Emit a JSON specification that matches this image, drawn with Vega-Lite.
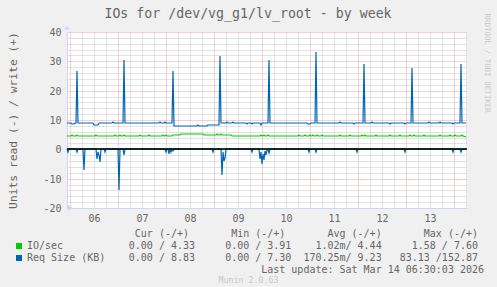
{
  "$schema": "https://vega.github.io/schema/vega-lite/v6.json",
  "width": 400,
  "height": 176,
  "autosize": {"type": "none"},
  "padding": {"left": 67, "top": 32, "right": 30, "bottom": 79},
  "background": "#f0f0f0",
  "config": {
    "font": "DejaVu Sans Mono",
    "view": {"fill": "#ffffff", "stroke": null},
    "axis": {"labelFont": "DejaVu Sans Mono", "titleFont": "DejaVu Sans Mono", "labelColor": "#666666", "titleColor": "#666666", "titleFontWeight": "normal", "labelFontSize": 10}
  },
  "title": {"text": "IOs for /dev/vg_g1/lv_root - by week", "font": "DejaVu Sans Mono", "fontSize": 13.25, "fontWeight": "normal", "color": "#666666", "anchor": "middle", "frame": "group", "dx": -19, "offset": -18, "baseline": "alphabetic"},
  "data": {"values": [
    {"t":"2026-03-05T22:30","s":"IO/sec","d":"w","v":4.45},
    {"t":"2026-03-06T00:30","s":"IO/sec","d":"w","v":4.45},
    {"t":"2026-03-06T01:00","s":"IO/sec","d":"w","v":4.9},
    {"t":"2026-03-06T01:30","s":"IO/sec","d":"w","v":4.45},
    {"t":"2026-03-06T03:00","s":"IO/sec","d":"w","v":4.45},
    {"t":"2026-03-06T03:30","s":"IO/sec","d":"w","v":4.9},
    {"t":"2026-03-06T04:00","s":"IO/sec","d":"w","v":4.45},
    {"t":"2026-03-06T12:30","s":"IO/sec","d":"w","v":4.45},
    {"t":"2026-03-06T13:00","s":"IO/sec","d":"w","v":4.9},
    {"t":"2026-03-06T13:30","s":"IO/sec","d":"w","v":4.45},
    {"t":"2026-03-06T22:00","s":"IO/sec","d":"w","v":4.45},
    {"t":"2026-03-06T22:30","s":"IO/sec","d":"w","v":4.9},
    {"t":"2026-03-06T23:00","s":"IO/sec","d":"w","v":4.45},
    {"t":"2026-03-07T00:30","s":"IO/sec","d":"w","v":4.45},
    {"t":"2026-03-07T01:00","s":"IO/sec","d":"w","v":4.9},
    {"t":"2026-03-07T01:30","s":"IO/sec","d":"w","v":4.45},
    {"t":"2026-03-07T02:30","s":"IO/sec","d":"w","v":4.45},
    {"t":"2026-03-07T03:00","s":"IO/sec","d":"w","v":4.9},
    {"t":"2026-03-07T03:30","s":"IO/sec","d":"w","v":4.45},
    {"t":"2026-03-07T10:30","s":"IO/sec","d":"w","v":4.45},
    {"t":"2026-03-07T11:00","s":"IO/sec","d":"w","v":4.9},
    {"t":"2026-03-07T11:30","s":"IO/sec","d":"w","v":4.45},
    {"t":"2026-03-07T15:00","s":"IO/sec","d":"w","v":4.45},
    {"t":"2026-03-07T15:30","s":"IO/sec","d":"w","v":4.9},
    {"t":"2026-03-07T16:00","s":"IO/sec","d":"w","v":4.45},
    {"t":"2026-03-07T22:00","s":"IO/sec","d":"w","v":4.45},
    {"t":"2026-03-07T22:30","s":"IO/sec","d":"w","v":4.9},
    {"t":"2026-03-07T23:00","s":"IO/sec","d":"w","v":4.45},
    {"t":"2026-03-07T23:30","s":"IO/sec","d":"w","v":4.45},
    {"t":"2026-03-08T00:00","s":"IO/sec","d":"w","v":4.9},
    {"t":"2026-03-08T00:30","s":"IO/sec","d":"w","v":4.45},
    {"t":"2026-03-08T03:00","s":"IO/sec","d":"w","v":4.45},
    {"t":"2026-03-08T03:30","s":"IO/sec","d":"w","v":5.0},
    {"t":"2026-03-08T07:00","s":"IO/sec","d":"w","v":5.0},
    {"t":"2026-03-08T07:30","s":"IO/sec","d":"w","v":5.25},
    {"t":"2026-03-08T18:30","s":"IO/sec","d":"w","v":5.25},
    {"t":"2026-03-08T19:00","s":"IO/sec","d":"w","v":5.0},
    {"t":"2026-03-09T01:00","s":"IO/sec","d":"w","v":5.0},
    {"t":"2026-03-09T01:30","s":"IO/sec","d":"w","v":5.3},
    {"t":"2026-03-09T02:00","s":"IO/sec","d":"w","v":5.0},
    {"t":"2026-03-09T03:00","s":"IO/sec","d":"w","v":5.0},
    {"t":"2026-03-09T03:30","s":"IO/sec","d":"w","v":5.3},
    {"t":"2026-03-09T04:00","s":"IO/sec","d":"w","v":5.0},
    {"t":"2026-03-09T08:30","s":"IO/sec","d":"w","v":5.0},
    {"t":"2026-03-09T09:00","s":"IO/sec","d":"w","v":4.45},
    {"t":"2026-03-09T23:00","s":"IO/sec","d":"w","v":4.45},
    {"t":"2026-03-09T23:30","s":"IO/sec","d":"w","v":4.9},
    {"t":"2026-03-10T00:00","s":"IO/sec","d":"w","v":4.45},
    {"t":"2026-03-10T00:30","s":"IO/sec","d":"w","v":4.45},
    {"t":"2026-03-10T01:00","s":"IO/sec","d":"w","v":4.9},
    {"t":"2026-03-10T01:30","s":"IO/sec","d":"w","v":4.45},
    {"t":"2026-03-10T02:30","s":"IO/sec","d":"w","v":4.45},
    {"t":"2026-03-10T03:00","s":"IO/sec","d":"w","v":4.9},
    {"t":"2026-03-10T03:30","s":"IO/sec","d":"w","v":4.45},
    {"t":"2026-03-10T18:00","s":"IO/sec","d":"w","v":4.45},
    {"t":"2026-03-10T18:30","s":"IO/sec","d":"w","v":4.8},
    {"t":"2026-03-10T19:00","s":"IO/sec","d":"w","v":4.45},
    {"t":"2026-03-10T21:00","s":"IO/sec","d":"w","v":4.45},
    {"t":"2026-03-10T21:30","s":"IO/sec","d":"w","v":4.8},
    {"t":"2026-03-10T22:00","s":"IO/sec","d":"w","v":4.45},
    {"t":"2026-03-10T23:30","s":"IO/sec","d":"w","v":4.45},
    {"t":"2026-03-11T00:00","s":"IO/sec","d":"w","v":4.9},
    {"t":"2026-03-11T00:30","s":"IO/sec","d":"w","v":4.45},
    {"t":"2026-03-11T01:00","s":"IO/sec","d":"w","v":4.45},
    {"t":"2026-03-11T01:30","s":"IO/sec","d":"w","v":4.8},
    {"t":"2026-03-11T02:00","s":"IO/sec","d":"w","v":4.45},
    {"t":"2026-03-11T03:00","s":"IO/sec","d":"w","v":4.45},
    {"t":"2026-03-11T03:30","s":"IO/sec","d":"w","v":4.9},
    {"t":"2026-03-11T04:00","s":"IO/sec","d":"w","v":4.45},
    {"t":"2026-03-11T05:30","s":"IO/sec","d":"w","v":4.45},
    {"t":"2026-03-11T06:00","s":"IO/sec","d":"w","v":4.8},
    {"t":"2026-03-11T06:30","s":"IO/sec","d":"w","v":4.45},
    {"t":"2026-03-11T14:30","s":"IO/sec","d":"w","v":4.45},
    {"t":"2026-03-11T15:00","s":"IO/sec","d":"w","v":4.8},
    {"t":"2026-03-11T15:30","s":"IO/sec","d":"w","v":4.45},
    {"t":"2026-03-11T19:30","s":"IO/sec","d":"w","v":4.45},
    {"t":"2026-03-11T20:00","s":"IO/sec","d":"w","v":4.8},
    {"t":"2026-03-11T20:30","s":"IO/sec","d":"w","v":4.45},
    {"t":"2026-03-12T01:30","s":"IO/sec","d":"w","v":4.45},
    {"t":"2026-03-12T02:00","s":"IO/sec","d":"w","v":4.8},
    {"t":"2026-03-12T02:30","s":"IO/sec","d":"w","v":4.45},
    {"t":"2026-03-12T03:00","s":"IO/sec","d":"w","v":4.45},
    {"t":"2026-03-12T03:30","s":"IO/sec","d":"w","v":4.9},
    {"t":"2026-03-12T04:00","s":"IO/sec","d":"w","v":4.45},
    {"t":"2026-03-12T08:30","s":"IO/sec","d":"w","v":4.45},
    {"t":"2026-03-12T09:00","s":"IO/sec","d":"w","v":4.8},
    {"t":"2026-03-12T09:30","s":"IO/sec","d":"w","v":4.45},
    {"t":"2026-03-12T15:30","s":"IO/sec","d":"w","v":4.45},
    {"t":"2026-03-12T16:00","s":"IO/sec","d":"w","v":4.8},
    {"t":"2026-03-12T16:30","s":"IO/sec","d":"w","v":4.45},
    {"t":"2026-03-12T20:30","s":"IO/sec","d":"w","v":4.45},
    {"t":"2026-03-12T21:00","s":"IO/sec","d":"w","v":4.8},
    {"t":"2026-03-12T21:30","s":"IO/sec","d":"w","v":4.45},
    {"t":"2026-03-13T01:30","s":"IO/sec","d":"w","v":4.45},
    {"t":"2026-03-13T02:00","s":"IO/sec","d":"w","v":4.8},
    {"t":"2026-03-13T02:30","s":"IO/sec","d":"w","v":4.45},
    {"t":"2026-03-13T03:30","s":"IO/sec","d":"w","v":4.45},
    {"t":"2026-03-13T04:00","s":"IO/sec","d":"w","v":4.9},
    {"t":"2026-03-13T04:30","s":"IO/sec","d":"w","v":4.45},
    {"t":"2026-03-13T08:30","s":"IO/sec","d":"w","v":4.45},
    {"t":"2026-03-13T09:00","s":"IO/sec","d":"w","v":4.8},
    {"t":"2026-03-13T09:30","s":"IO/sec","d":"w","v":4.45},
    {"t":"2026-03-13T16:30","s":"IO/sec","d":"w","v":4.45},
    {"t":"2026-03-13T17:00","s":"IO/sec","d":"w","v":4.8},
    {"t":"2026-03-13T17:30","s":"IO/sec","d":"w","v":4.45},
    {"t":"2026-03-13T21:30","s":"IO/sec","d":"w","v":4.45},
    {"t":"2026-03-13T22:00","s":"IO/sec","d":"w","v":4.8},
    {"t":"2026-03-13T22:30","s":"IO/sec","d":"w","v":4.45},
    {"t":"2026-03-14T00:00","s":"IO/sec","d":"w","v":4.45},
    {"t":"2026-03-14T00:30","s":"IO/sec","d":"w","v":4.8},
    {"t":"2026-03-14T01:00","s":"IO/sec","d":"w","v":4.45},
    {"t":"2026-03-14T03:30","s":"IO/sec","d":"w","v":4.45},
    {"t":"2026-03-14T04:00","s":"IO/sec","d":"w","v":4.8},
    {"t":"2026-03-14T04:30","s":"IO/sec","d":"w","v":4.45},
    {"t":"2026-03-14T06:00","s":"IO/sec","d":"w","v":4.33},
    {"t":"2026-03-05T22:30","s":"IO/sec","d":"r","v":0},
    {"t":"2026-03-07T00:00","s":"IO/sec","d":"r","v":0},
    {"t":"2026-03-07T00:30","s":"IO/sec","d":"r","v":-0.3},
    {"t":"2026-03-07T01:00","s":"IO/sec","d":"r","v":0},
    {"t":"2026-03-09T03:30","s":"IO/sec","d":"r","v":0},
    {"t":"2026-03-09T04:00","s":"IO/sec","d":"r","v":-0.3},
    {"t":"2026-03-09T04:30","s":"IO/sec","d":"r","v":0},
    {"t":"2026-03-14T06:00","s":"IO/sec","d":"r","v":0},
    {"t":"2026-03-05T22:30","s":"Req Size (KB)","d":"w","v":8.9},
    {"t":"2026-03-06T00:30","s":"Req Size (KB)","d":"w","v":8.9},
    {"t":"2026-03-06T01:00","s":"Req Size (KB)","d":"w","v":8.6},
    {"t":"2026-03-06T02:00","s":"Req Size (KB)","d":"w","v":8.6},
    {"t":"2026-03-06T02:30","s":"Req Size (KB)","d":"w","v":8.9},
    {"t":"2026-03-06T03:00","s":"Req Size (KB)","d":"w","v":8.9},
    {"t":"2026-03-06T03:30","s":"Req Size (KB)","d":"w","v":26.6},
    {"t":"2026-03-06T04:00","s":"Req Size (KB)","d":"w","v":8.9},
    {"t":"2026-03-06T11:30","s":"Req Size (KB)","d":"w","v":8.9},
    {"t":"2026-03-06T12:00","s":"Req Size (KB)","d":"w","v":8.45},
    {"t":"2026-03-06T14:00","s":"Req Size (KB)","d":"w","v":8.45},
    {"t":"2026-03-06T14:30","s":"Req Size (KB)","d":"w","v":8.9},
    {"t":"2026-03-06T21:00","s":"Req Size (KB)","d":"w","v":8.9},
    {"t":"2026-03-06T21:30","s":"Req Size (KB)","d":"w","v":9.2},
    {"t":"2026-03-06T22:00","s":"Req Size (KB)","d":"w","v":8.9},
    {"t":"2026-03-07T02:30","s":"Req Size (KB)","d":"w","v":8.9},
    {"t":"2026-03-07T03:00","s":"Req Size (KB)","d":"w","v":30.5},
    {"t":"2026-03-07T03:30","s":"Req Size (KB)","d":"w","v":8.9},
    {"t":"2026-03-07T20:30","s":"Req Size (KB)","d":"w","v":8.9},
    {"t":"2026-03-07T21:00","s":"Req Size (KB)","d":"w","v":9.2},
    {"t":"2026-03-07T21:30","s":"Req Size (KB)","d":"w","v":8.9},
    {"t":"2026-03-07T23:00","s":"Req Size (KB)","d":"w","v":8.9},
    {"t":"2026-03-07T23:30","s":"Req Size (KB)","d":"w","v":9.2},
    {"t":"2026-03-08T00:00","s":"Req Size (KB)","d":"w","v":8.9},
    {"t":"2026-03-08T03:00","s":"Req Size (KB)","d":"w","v":8.9},
    {"t":"2026-03-08T03:30","s":"Req Size (KB)","d":"w","v":26.8},
    {"t":"2026-03-08T04:00","s":"Req Size (KB)","d":"w","v":8.0},
    {"t":"2026-03-08T09:30","s":"Req Size (KB)","d":"w","v":8.0},
    {"t":"2026-03-08T10:00","s":"Req Size (KB)","d":"w","v":8.1},
    {"t":"2026-03-08T15:30","s":"Req Size (KB)","d":"w","v":8.1},
    {"t":"2026-03-08T16:00","s":"Req Size (KB)","d":"w","v":8.35},
    {"t":"2026-03-08T16:30","s":"Req Size (KB)","d":"w","v":8.1},
    {"t":"2026-03-08T20:30","s":"Req Size (KB)","d":"w","v":8.1},
    {"t":"2026-03-08T21:00","s":"Req Size (KB)","d":"w","v":8.45},
    {"t":"2026-03-09T02:30","s":"Req Size (KB)","d":"w","v":8.45},
    {"t":"2026-03-09T03:00","s":"Req Size (KB)","d":"w","v":31.8},
    {"t":"2026-03-09T03:30","s":"Req Size (KB)","d":"w","v":8.9},
    {"t":"2026-03-09T06:00","s":"Req Size (KB)","d":"w","v":8.9},
    {"t":"2026-03-09T06:30","s":"Req Size (KB)","d":"w","v":9.2},
    {"t":"2026-03-09T07:00","s":"Req Size (KB)","d":"w","v":8.9},
    {"t":"2026-03-09T09:00","s":"Req Size (KB)","d":"w","v":8.9},
    {"t":"2026-03-09T09:30","s":"Req Size (KB)","d":"w","v":9.2},
    {"t":"2026-03-09T10:00","s":"Req Size (KB)","d":"w","v":8.9},
    {"t":"2026-03-09T16:00","s":"Req Size (KB)","d":"w","v":8.9},
    {"t":"2026-03-09T16:30","s":"Req Size (KB)","d":"w","v":8.6},
    {"t":"2026-03-09T17:00","s":"Req Size (KB)","d":"w","v":8.9},
    {"t":"2026-03-09T18:30","s":"Req Size (KB)","d":"w","v":8.9},
    {"t":"2026-03-09T19:00","s":"Req Size (KB)","d":"w","v":8.6},
    {"t":"2026-03-09T19:30","s":"Req Size (KB)","d":"w","v":8.9},
    {"t":"2026-03-09T23:00","s":"Req Size (KB)","d":"w","v":8.9},
    {"t":"2026-03-09T23:30","s":"Req Size (KB)","d":"w","v":8.45},
    {"t":"2026-03-10T00:00","s":"Req Size (KB)","d":"w","v":8.9},
    {"t":"2026-03-10T03:00","s":"Req Size (KB)","d":"w","v":8.9},
    {"t":"2026-03-10T03:30","s":"Req Size (KB)","d":"w","v":30.5},
    {"t":"2026-03-10T04:00","s":"Req Size (KB)","d":"w","v":8.9},
    {"t":"2026-03-10T22:30","s":"Req Size (KB)","d":"w","v":8.9},
    {"t":"2026-03-10T23:00","s":"Req Size (KB)","d":"w","v":8.5},
    {"t":"2026-03-11T00:00","s":"Req Size (KB)","d":"w","v":8.5},
    {"t":"2026-03-11T00:30","s":"Req Size (KB)","d":"w","v":8.9},
    {"t":"2026-03-11T02:30","s":"Req Size (KB)","d":"w","v":8.9},
    {"t":"2026-03-11T03:00","s":"Req Size (KB)","d":"w","v":33.2},
    {"t":"2026-03-11T03:30","s":"Req Size (KB)","d":"w","v":8.9},
    {"t":"2026-03-11T14:30","s":"Req Size (KB)","d":"w","v":8.9},
    {"t":"2026-03-11T15:00","s":"Req Size (KB)","d":"w","v":9.2},
    {"t":"2026-03-11T15:30","s":"Req Size (KB)","d":"w","v":8.9},
    {"t":"2026-03-11T21:30","s":"Req Size (KB)","d":"w","v":8.9},
    {"t":"2026-03-11T22:00","s":"Req Size (KB)","d":"w","v":8.6},
    {"t":"2026-03-11T22:30","s":"Req Size (KB)","d":"w","v":8.9},
    {"t":"2026-03-12T02:30","s":"Req Size (KB)","d":"w","v":8.9},
    {"t":"2026-03-12T03:00","s":"Req Size (KB)","d":"w","v":29.1},
    {"t":"2026-03-12T03:30","s":"Req Size (KB)","d":"w","v":8.9},
    {"t":"2026-03-12T06:30","s":"Req Size (KB)","d":"w","v":8.9},
    {"t":"2026-03-12T07:00","s":"Req Size (KB)","d":"w","v":9.2},
    {"t":"2026-03-12T07:30","s":"Req Size (KB)","d":"w","v":8.9},
    {"t":"2026-03-12T15:30","s":"Req Size (KB)","d":"w","v":8.9},
    {"t":"2026-03-12T16:00","s":"Req Size (KB)","d":"w","v":8.6},
    {"t":"2026-03-12T16:30","s":"Req Size (KB)","d":"w","v":8.9},
    {"t":"2026-03-12T23:00","s":"Req Size (KB)","d":"w","v":8.9},
    {"t":"2026-03-12T23:30","s":"Req Size (KB)","d":"w","v":8.5},
    {"t":"2026-03-13T00:00","s":"Req Size (KB)","d":"w","v":8.9},
    {"t":"2026-03-13T02:30","s":"Req Size (KB)","d":"w","v":8.9},
    {"t":"2026-03-13T03:00","s":"Req Size (KB)","d":"w","v":27.8},
    {"t":"2026-03-13T03:30","s":"Req Size (KB)","d":"w","v":8.9},
    {"t":"2026-03-13T11:00","s":"Req Size (KB)","d":"w","v":8.9},
    {"t":"2026-03-13T11:30","s":"Req Size (KB)","d":"w","v":9.2},
    {"t":"2026-03-13T12:00","s":"Req Size (KB)","d":"w","v":8.9},
    {"t":"2026-03-13T16:30","s":"Req Size (KB)","d":"w","v":8.9},
    {"t":"2026-03-13T17:00","s":"Req Size (KB)","d":"w","v":9.2},
    {"t":"2026-03-13T17:30","s":"Req Size (KB)","d":"w","v":8.9},
    {"t":"2026-03-13T23:00","s":"Req Size (KB)","d":"w","v":8.9},
    {"t":"2026-03-13T23:30","s":"Req Size (KB)","d":"w","v":8.6},
    {"t":"2026-03-14T00:00","s":"Req Size (KB)","d":"w","v":8.9},
    {"t":"2026-03-14T03:00","s":"Req Size (KB)","d":"w","v":8.9},
    {"t":"2026-03-14T03:30","s":"Req Size (KB)","d":"w","v":29.1},
    {"t":"2026-03-14T04:00","s":"Req Size (KB)","d":"w","v":8.9},
    {"t":"2026-03-14T06:00","s":"Req Size (KB)","d":"w","v":8.83},
    {"t":"2026-03-05T22:30","s":"Req Size (KB)","d":"r","v":0},
    {"t":"2026-03-05T23:00","s":"Req Size (KB)","d":"r","v":-0.9},
    {"t":"2026-03-05T23:30","s":"Req Size (KB)","d":"r","v":0},
    {"t":"2026-03-06T03:00","s":"Req Size (KB)","d":"r","v":0},
    {"t":"2026-03-06T03:30","s":"Req Size (KB)","d":"r","v":-0.9},
    {"t":"2026-03-06T04:00","s":"Req Size (KB)","d":"r","v":0},
    {"t":"2026-03-06T06:30","s":"Req Size (KB)","d":"r","v":0},
    {"t":"2026-03-06T07:00","s":"Req Size (KB)","d":"r","v":-7.1},
    {"t":"2026-03-06T07:30","s":"Req Size (KB)","d":"r","v":0},
    {"t":"2026-03-06T13:00","s":"Req Size (KB)","d":"r","v":0},
    {"t":"2026-03-06T13:30","s":"Req Size (KB)","d":"r","v":-3.4},
    {"t":"2026-03-06T14:00","s":"Req Size (KB)","d":"r","v":-1.0},
    {"t":"2026-03-06T14:30","s":"Req Size (KB)","d":"r","v":-2.0},
    {"t":"2026-03-06T15:00","s":"Req Size (KB)","d":"r","v":-4.3},
    {"t":"2026-03-06T15:30","s":"Req Size (KB)","d":"r","v":0},
    {"t":"2026-03-06T17:00","s":"Req Size (KB)","d":"r","v":0},
    {"t":"2026-03-06T17:30","s":"Req Size (KB)","d":"r","v":-0.9},
    {"t":"2026-03-06T18:00","s":"Req Size (KB)","d":"r","v":0},
    {"t":"2026-03-07T00:00","s":"Req Size (KB)","d":"r","v":0},
    {"t":"2026-03-07T00:30","s":"Req Size (KB)","d":"r","v":-14.0},
    {"t":"2026-03-07T01:00","s":"Req Size (KB)","d":"r","v":0},
    {"t":"2026-03-07T02:30","s":"Req Size (KB)","d":"r","v":0},
    {"t":"2026-03-07T03:00","s":"Req Size (KB)","d":"r","v":-2.0},
    {"t":"2026-03-07T03:30","s":"Req Size (KB)","d":"r","v":0},
    {"t":"2026-03-07T23:30","s":"Req Size (KB)","d":"r","v":0},
    {"t":"2026-03-08T00:00","s":"Req Size (KB)","d":"r","v":-0.9},
    {"t":"2026-03-08T00:30","s":"Req Size (KB)","d":"r","v":0},
    {"t":"2026-03-08T01:00","s":"Req Size (KB)","d":"r","v":0},
    {"t":"2026-03-08T01:30","s":"Req Size (KB)","d":"r","v":-1.5},
    {"t":"2026-03-08T02:00","s":"Req Size (KB)","d":"r","v":0},
    {"t":"2026-03-08T02:30","s":"Req Size (KB)","d":"r","v":-0.9},
    {"t":"2026-03-08T03:00","s":"Req Size (KB)","d":"r","v":0},
    {"t":"2026-03-08T03:30","s":"Req Size (KB)","d":"r","v":-0.5},
    {"t":"2026-03-08T04:00","s":"Req Size (KB)","d":"r","v":0},
    {"t":"2026-03-08T23:00","s":"Req Size (KB)","d":"r","v":0},
    {"t":"2026-03-08T23:30","s":"Req Size (KB)","d":"r","v":-0.9},
    {"t":"2026-03-09T00:00","s":"Req Size (KB)","d":"r","v":0},
    {"t":"2026-03-09T03:30","s":"Req Size (KB)","d":"r","v":0},
    {"t":"2026-03-09T04:00","s":"Req Size (KB)","d":"r","v":-8.8},
    {"t":"2026-03-09T04:30","s":"Req Size (KB)","d":"r","v":-1.0},
    {"t":"2026-03-09T05:00","s":"Req Size (KB)","d":"r","v":-4.0},
    {"t":"2026-03-09T05:30","s":"Req Size (KB)","d":"r","v":-2.8},
    {"t":"2026-03-09T06:00","s":"Req Size (KB)","d":"r","v":0},
    {"t":"2026-03-09T18:30","s":"Req Size (KB)","d":"r","v":0},
    {"t":"2026-03-09T19:00","s":"Req Size (KB)","d":"r","v":-0.9},
    {"t":"2026-03-09T19:30","s":"Req Size (KB)","d":"r","v":0},
    {"t":"2026-03-09T22:30","s":"Req Size (KB)","d":"r","v":0},
    {"t":"2026-03-09T23:00","s":"Req Size (KB)","d":"r","v":-3.4},
    {"t":"2026-03-09T23:30","s":"Req Size (KB)","d":"r","v":-1.0},
    {"t":"2026-03-10T00:00","s":"Req Size (KB)","d":"r","v":-5.1},
    {"t":"2026-03-10T00:30","s":"Req Size (KB)","d":"r","v":-1.5},
    {"t":"2026-03-10T01:00","s":"Req Size (KB)","d":"r","v":-3.7},
    {"t":"2026-03-10T01:30","s":"Req Size (KB)","d":"r","v":-0.5},
    {"t":"2026-03-10T02:00","s":"Req Size (KB)","d":"r","v":-1.9},
    {"t":"2026-03-10T02:30","s":"Req Size (KB)","d":"r","v":-0.3},
    {"t":"2026-03-10T03:00","s":"Req Size (KB)","d":"r","v":-0.3},
    {"t":"2026-03-10T03:30","s":"Req Size (KB)","d":"r","v":-1.1},
    {"t":"2026-03-10T04:00","s":"Req Size (KB)","d":"r","v":0},
    {"t":"2026-03-10T23:00","s":"Req Size (KB)","d":"r","v":0},
    {"t":"2026-03-10T23:30","s":"Req Size (KB)","d":"r","v":-0.9},
    {"t":"2026-03-11T00:00","s":"Req Size (KB)","d":"r","v":0},
    {"t":"2026-03-11T02:30","s":"Req Size (KB)","d":"r","v":0},
    {"t":"2026-03-11T03:00","s":"Req Size (KB)","d":"r","v":-0.9},
    {"t":"2026-03-11T03:30","s":"Req Size (KB)","d":"r","v":0},
    {"t":"2026-03-11T23:00","s":"Req Size (KB)","d":"r","v":0},
    {"t":"2026-03-11T23:30","s":"Req Size (KB)","d":"r","v":-0.8},
    {"t":"2026-03-12T00:00","s":"Req Size (KB)","d":"r","v":0},
    {"t":"2026-03-12T23:00","s":"Req Size (KB)","d":"r","v":0},
    {"t":"2026-03-12T23:30","s":"Req Size (KB)","d":"r","v":-0.8},
    {"t":"2026-03-13T00:00","s":"Req Size (KB)","d":"r","v":0},
    {"t":"2026-03-13T23:00","s":"Req Size (KB)","d":"r","v":0},
    {"t":"2026-03-13T23:30","s":"Req Size (KB)","d":"r","v":-0.8},
    {"t":"2026-03-14T00:00","s":"Req Size (KB)","d":"r","v":0},
    {"t":"2026-03-14T03:00","s":"Req Size (KB)","d":"r","v":0},
    {"t":"2026-03-14T03:30","s":"Req Size (KB)","d":"r","v":-0.8},
    {"t":"2026-03-14T04:00","s":"Req Size (KB)","d":"r","v":0},
    {"t":"2026-03-14T06:00","s":"Req Size (KB)","d":"r","v":0}
  ]},
  "layer": [
    {
      "mark": {"type": "line", "strokeWidth": 1.2},
      "encoding": {
        "x": {
          "field": "t", "type": "temporal",
          "scale": {"domain": ["2026-03-05T22:30", "2026-03-14T06:30"], "nice": false},
          "axis": {
            "orient": "bottom",
            "values": ["2026-03-06T06:00","2026-03-06T12:00","2026-03-06T18:00",
                       "2026-03-07T06:00","2026-03-07T12:00","2026-03-07T18:00",
                       "2026-03-08T06:00","2026-03-08T12:00","2026-03-08T18:00",
                       "2026-03-09T06:00","2026-03-09T12:00","2026-03-09T18:00",
                       "2026-03-10T06:00","2026-03-10T12:00","2026-03-10T18:00",
                       "2026-03-11T06:00","2026-03-11T12:00","2026-03-11T18:00",
                       "2026-03-12T06:00","2026-03-12T12:00","2026-03-12T18:00",
                       "2026-03-13T06:00","2026-03-13T12:00","2026-03-13T18:00",
                       "2026-03-14T06:00"],
            "labelExpr": "hours(datum.value) === 12 ? timeFormat(datum.value, '%d') : ''",
            "grid": true,
            "gridColor": "#c6c6c6",
            "gridDash": [1, 1],
            "gridWidth": 1,
            "ticks": false,
            "labelPadding": 5,
            "labelFontSize": 10,
            "labelOverlap": false,
            "labelFlush": false,
            "labelBound": false,
            "domainColor": "#cfd6f8",
            "title": [
              "\u200b\u00a0Cur (-/+)\u00a0\u00a0\u00a0\u00a0\u00a0\u00a0\u00a0Min (-/+)\u00a0\u00a0\u00a0\u00a0\u00a0\u00a0\u00a0Avg (-/+)\u00a0\u00a0\u00a0\u00a0\u00a0\u00a0\u00a0Max (-/+)",
              "0.00 / 4.33\u00a0\u00a0\u00a0\u00a0\u00a00.00 / 3.91\u00a0\u00a0\u00a0\u00a01.02m/ 4.44\u00a0\u00a0\u00a0\u00a0\u00a01.58 / 7.60",
              "0.00 / 8.83\u00a0\u00a0\u00a0\u00a0\u00a00.00 / 7.30\u00a0\u00a0170.25m/ 9.23\u00a0\u00a0\u00a083.13 /152.87",
              "\u200b\u00a0\u00a0\u00a0\u00a0\u00a0\u00a0\u00a0\u00a0\u00a0\u00a0\u00a0\u00a0\u00a0\u00a0\u00a0\u00a0\u00a0\u00a0\u00a0\u00a0\u00a0\u00a0Last update: Sat Mar 14 06:30:03 2026"
            ],
            "titleFontSize": 10,
            "titleAlign": "left",
            "titleBaseline": "alphabetic",
            "titleX": 61.3,
            "titleY": 28,
            "titleLineHeight": 12,
            "titleLimit": 2000
          }
        },
        "y": {
          "field": "v", "type": "quantitative",
          "scale": {"domain": [-20, 40], "nice": false, "zero": false, "round": true},
          "axis": {
            "orient": "left",
            "values": [-18, -16, -14, -12, -8, -6, -4, -2, 2, 4, 6, 8, 12, 14, 16, 18, 22, 24, 26, 28, 32, 34, 36, 38],
            "labels": false,
            "grid": true,
            "gridColor": "#c6c6c6",
            "gridDash": [1, 1],
            "gridWidth": 1,
            "ticks": false,
            "domain": false,
            "title": null
          }
        },
        "color": {
          "field": "s", "type": "nominal",
          "scale": {"domain": ["IO/sec", "Req Size (KB)"], "range": ["#00cc00", "#0066b3"]},
          "legend": {
            "orient": "none", "legendX": -53, "legendY": 208,
            "title": null, "symbolType": "square", "symbolSize": 1, "symbolStrokeWidth": 5,
            "labelFont": "DejaVu Sans Mono", "labelFontSize": 10, "labelColor": "#666666",
            "labelOffset": 3, "rowPadding": 0, "clipHeight": 12, "padding": 0, "direction": "vertical"
          }
        },
        "detail": {"field": "d"}
      }
    },
    {
      "data": {"values": [{}]},
      "mark": {"type": "point", "shape": "M-1,-1L1,-1L0,-2.6Z", "size": 25, "filled": true, "color": "#cfd6f8", "opacity": 1},
      "encoding": {
        "x": {"datum": "2026-03-05T22:30", "type": "temporal",
          "axis": {"orient": "bottom", "values": ["2026-03-06T00:00","2026-03-07T00:00","2026-03-08T00:00","2026-03-09T00:00","2026-03-10T00:00","2026-03-11T00:00","2026-03-12T00:00","2026-03-13T00:00","2026-03-14T00:00"],
            "labels": false, "ticks": false, "domain": false, "title": null,
            "grid": true, "gridColor": "#eaa0a0", "gridDash": [1, 1], "gridWidth": 1}},
        "y": {"datum": 40, "type": "quantitative",
          "axis": {"orient": "left", "values": [-20, -10, 0, 10, 20, 30, 40],
            "labelExpr": "'' + datum.value",
            "grid": true, "gridColor": "#eaa0a0", "gridDash": [1, 1], "gridWidth": 1,
            "ticks": false, "labelPadding": 6, "labelFontSize": 10,
            "labelOverlap": false, "labelFlush": false, "labelBound": false,
            "domainColor": "#cfd6f8",
            "title": "Units read (-) / write (+)",
            "titleFontSize": 11.3, "titleAngle": -90, "titleAlign": "center", "titleBaseline": "alphabetic",
            "titleX": -50.7, "titleY": 88}}
      }
    },
    {
      "data": {"values": [{}]},
      "mark": {"type": "point", "shape": "M0.4,-1.2L0.4,1.2L2.4,0Z", "size": 25, "filled": true, "color": "#cfd6f8", "opacity": 1},
      "encoding": {
        "x": {"datum": "2026-03-14T06:30", "type": "temporal",
          "axis": {"orient": "bottom", "labels": false, "ticks": false, "domain": false, "grid": false,
            "title": "Munin 2.0.63", "titleFontSize": 8.3, "titleColor": "#c8c8c8",
            "titleAlign": "center", "titleBaseline": "alphabetic", "titleX": 181, "titleY": 74}},
        "y": {"datum": -20, "type": "quantitative", "axis": null}
      }
    },
    {
      "data": {"values": [{}]},
      "mark": {"type": "rule", "color": "#000000", "strokeWidth": 1.6},
      "encoding": {
        "y": {"datum": 0, "type": "quantitative",
          "axis": {"orient": "right", "labels": false, "ticks": false, "domain": false, "grid": false,
            "title": "RRDTOOL / TOBI OETIKER", "titleFontSize": 7.5, "titleColor": "#c8c8c8", "titleAngle": 90,
            "titleAlign": "left", "titleBaseline": "alphabetic", "titleX": 17, "titleY": -19}}
      }
    }
  ],
  "resolve": {"axis": {"x": "independent", "y": "independent"}}
}
